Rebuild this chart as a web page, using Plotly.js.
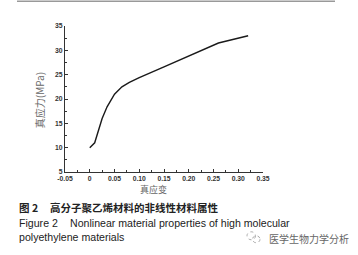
<!DOCTYPE html>
<html><head><meta charset="utf-8">
<script src="https://cdn.plot.ly/plotly-3.0.1.min.js"></script>
<style>html,body{margin:0;padding:0;background:#fff;}#chart{width:358px;height:255px;}</style>
</head><body><div id="chart"></div>
<script>
var strain = [0, 0.01, 0.025, 0.035, 0.05, 0.065, 0.08, 0.1, 0.15, 0.2, 0.26, 0.32];
var stress = [10, 11, 16, 18.4, 21, 22.5, 23.4, 24.4, 26.6, 28.9, 31.5, 33];
var xTicks = [-0.05, 0, 0.05, 0.10, 0.15, 0.20, 0.25, 0.30, 0.35];
var xTickText = ['-0.05', '0', '0.05', '0.10', '0.15', '0.20', '0.25', '0.30', '0.35'];
var yTicks = [5, 10, 15, 20, 25, 30, 35];
var xTitle = '真应变';
var yTitle = '真应力(MPa)';
var captionCNLabel = '图 2';
var captionCN = '高分子聚乙烯材料的非线性材料属性';
var captionENLabel = 'Figure 2';
var captionEN1 = 'Nonlinear material properties of high molecular';
var captionEN2 = 'polyethylene materials';
var watermark = '医学生物力学分析';

// plot area in pixels: x 65..263, y 25.5..172
var L = 65, W = 198, B = 172, H = 146.5;
function px(x) { return (x - L) / W; }
function py(y) { return (B - y) / H; }

var tickFont = {family: 'Liberation Sans, Arial, sans-serif', size: 6.8, color: '#333', weight: 'bold'};
var cjk = 'Noto Sans CJK SC, sans-serif';
var latin = 'Liberation Sans, Arial, sans-serif';

function ann(text, x, y, font, extra) {
  var a = {text: text, xref: 'paper', yref: 'paper', x: px(x), y: py(y), xanchor: 'left', yanchor: 'middle',
           showarrow: false, font: font};
  for (var k in (extra || {})) a[k] = extra[k];
  return a;
}

Plotly.newPlot('chart', [{
  x: strain, y: stress, type: 'scatter', mode: 'lines',
  line: {color: '#1a1a1a', width: 1.4}, hoverinfo: 'skip'
}], {
  width: 358, height: 255,
  margin: {l: 65, r: 95, t: 26, b: 83},
  paper_bgcolor: '#fff', plot_bgcolor: '#fff',
  showlegend: false,
  xaxis: {
    range: [-0.05, 0.35], tickvals: xTicks, ticktext: xTickText,
    showgrid: false, zeroline: false, showline: true, linecolor: '#333', linewidth: 1,
    ticks: 'inside', ticklen: 3, tickcolor: '#333', tickfont: tickFont, ticklabelstandoff: 0,
    minor: {dtick: 0.025, ticks: 'inside', ticklen: 2, tickcolor: '#333', showgrid: false}
  },
  yaxis: {
    range: [5, 35], tickvals: yTicks,
    showgrid: false, zeroline: false, showline: true, linecolor: '#333', linewidth: 1,
    ticks: 'inside', ticklen: 3, tickcolor: '#333', tickfont: tickFont,
    minor: {dtick: 2.5, ticks: 'inside', ticklen: 2, tickcolor: '#333', showgrid: false}
  },
  shapes: [
    {type: 'line', xref: 'paper', yref: 'paper', x0: px(17), x1: px(335), y0: py(0.7), y1: py(0.7),
     line: {color: '#999', width: 1.5}},
    {type: 'circle', xref: 'paper', yref: 'paper', x0: px(247), x1: px(255.5), y0: py(232), y1: py(240),
     line: {color: '#aaa', width: 1, dash: 'dot'}},
    {type: 'circle', xref: 'paper', yref: 'paper', x0: px(252.5), x1: px(260), y0: py(236), y1: py(243),
     line: {color: '#aaa', width: 1, dash: 'dot'}}
  ],
  annotations: [
    ann(xTitle, 153, 190, {family: cjk, size: 9, color: '#666'}, {xanchor: 'center'}),
    ann(yTitle, 39, 100, {family: cjk, size: 10, color: '#666'}, {xanchor: 'center', textangle: -90}),
    ann('<b>' + captionCNLabel + '</b>', 17, 208, {family: cjk, size: 10.5, color: '#222'}),
    ann('<b>' + captionCN + '</b>', 47.5, 208, {family: cjk, size: 10.5, color: '#222'}),
    ann(captionENLabel, 17, 223, {family: latin, size: 10.6, color: '#222'}),
    ann(captionEN1, 68, 223, {family: latin, size: 10.6, color: '#222'}),
    ann(captionEN2, 17, 237.5, {family: latin, size: 10.6, color: '#222'}),
    ann(watermark, 266.5, 239, {family: cjk, size: 10, color: '#666'})
  ]
}, {staticPlot: true, displayModeBar: false});
</script></body></html>
